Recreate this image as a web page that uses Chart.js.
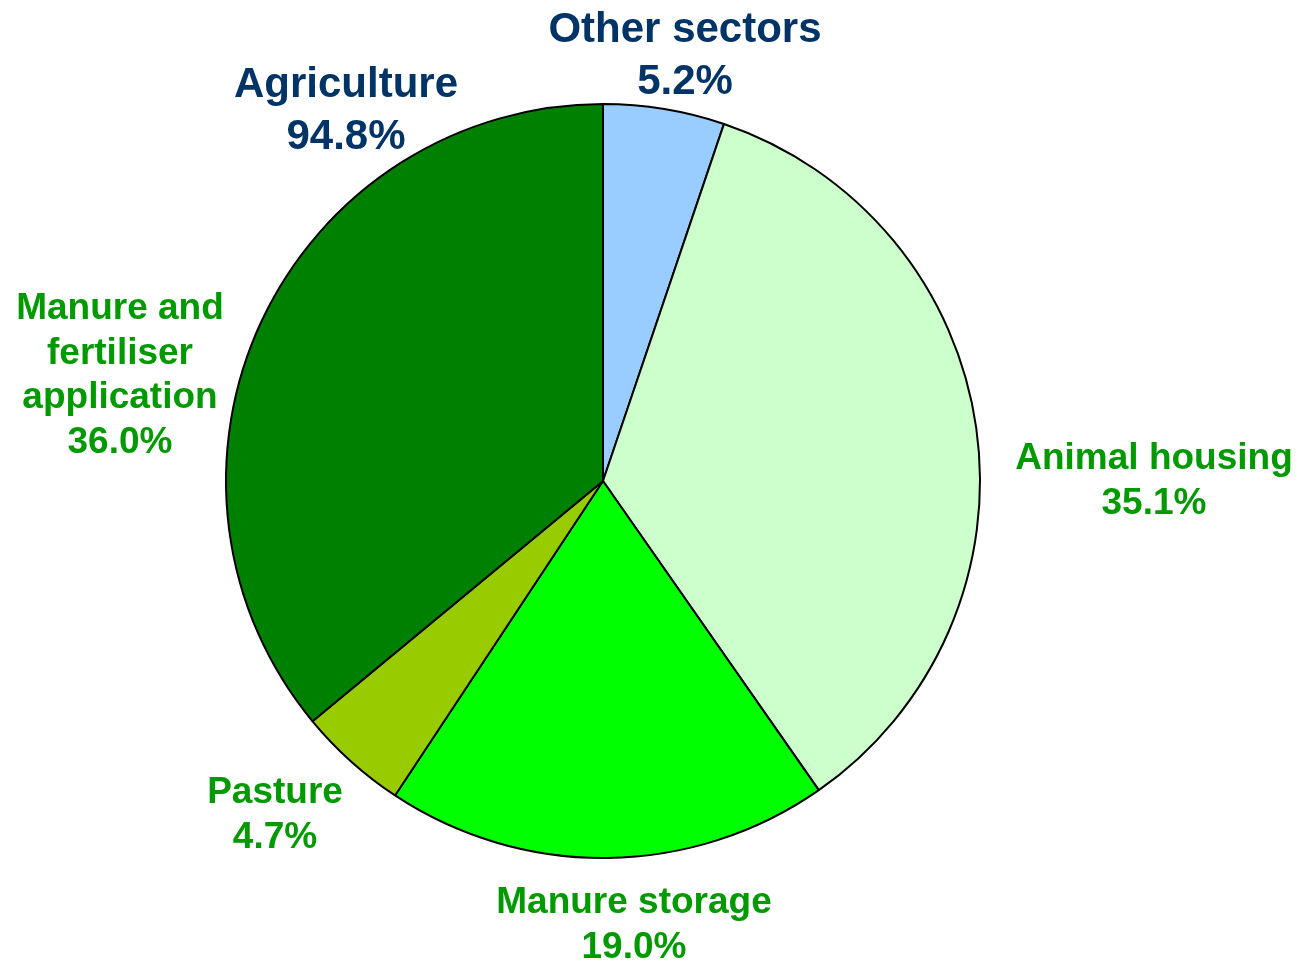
<!DOCTYPE html>
<html>
<head>
<meta charset="utf-8">
<title>Ammonia emissions by source</title>
<script src="https://cdn.jsdelivr.net/npm/chart.js@4/dist/chart.umd.min.js"></script>
<style>
  html, body { margin: 0; padding: 0; background: #ffffff; }
  #wrap { width: 1299px; height: 962px; position: relative; }
</style>
</head>
<body>
<div id="wrap"><canvas id="pie" width="1299" height="962"></canvas></div>
<script>
// Emission shares by source (percent), clockwise from 12 o'clock
const categories = ['Other sectors', 'Animal housing', 'Manure storage', 'Pasture', 'Manure and fertiliser application'];
const shares = [5.2, 35.1, 19.0, 4.7, 36.0];
// Sources that make up the agricultural total
const agricultureSources = ['Animal housing', 'Manure storage', 'Pasture', 'Manure and fertiliser application'];

const sliceColours = ['#99CCFF', '#CCFFCC', '#00FF00', '#99CC00', '#008000'];
const BLUE_TEXT = '#003366';
const GREEN_TEXT = '#009900';

const agricultureTotal = agricultureSources
  .map(name => shares[categories.indexOf(name)])
  .reduce((a, b) => a + b, 0);

const pct = v => v.toFixed(1) + '%';

// Label blocks: text lines, offset of first baseline from the pie centre, style
const labelBlocks = [
  { lines: ['Other sectors', pct(shares[0])], dx: 82, dy: -439, size: 42, lh: 52, color: BLUE_TEXT },
  { lines: ['Agriculture', pct(agricultureTotal)], dx: -257, dy: -384, size: 42, lh: 52, color: BLUE_TEXT },
  { lines: ['Animal housing', pct(shares[1])], dx: 551, dy: -12, size: 37, lh: 44.5, color: GREEN_TEXT },
  { lines: ['Manure storage', pct(shares[2])], dx: 31, dy: 432, size: 37, lh: 44.5, color: GREEN_TEXT },
  { lines: ['Pasture', pct(shares[3])], dx: -328, dy: 322, size: 37, lh: 44.5, color: GREEN_TEXT },
  { lines: ['Manure and', 'fertiliser', 'application', pct(shares[4])], dx: -483, dy: -162, size: 37, lh: 44.5, color: GREEN_TEXT }
];

const sliceLabels = {
  id: 'sliceLabels',
  afterDraw(chart) {
    const arc = chart.getDatasetMeta(0).data[0];
    if (!arc) return;
    const cx = arc.x, cy = arc.y;
    const ctx = chart.ctx;
    ctx.save();
    ctx.textAlign = 'center';
    ctx.textBaseline = 'alphabetic';
    labelBlocks.forEach(b => {
      ctx.font = 'bold ' + b.size + 'px "Liberation Sans", Arial, sans-serif';
      ctx.fillStyle = b.color;
      b.lines.forEach((t, i) => ctx.fillText(t, cx + b.dx, cy + b.dy + i * b.lh));
    });
    ctx.restore();
  }
};

new Chart(document.getElementById('pie'), {
  type: 'pie',
  data: {
    labels: categories,
    datasets: [{
      data: shares,
      backgroundColor: sliceColours,
      borderColor: '#000000',
      borderWidth: 2,
      hoverOffset: 0
    }]
  },
  options: {
    responsive: false,
    animation: false,
    layout: { padding: { top: 103, bottom: 103, left: 0, right: 93 } },
    plugins: {
      legend: { display: false },
      tooltip: { enabled: false }
    }
  },
  plugins: [sliceLabels]
});
</script>
</body>
</html>
